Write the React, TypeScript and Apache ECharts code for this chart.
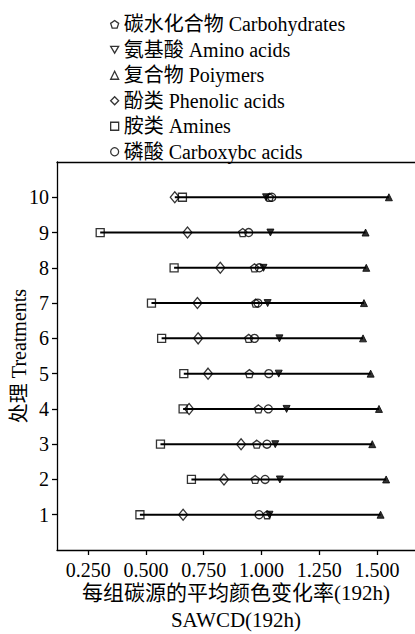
import React, { useEffect, useRef } from "react";
import * as echarts from "echarts";

const treatments = [1, 2, 3, 4, 5, 6, 7, 8, 9, 10];
const carbohydrates = [1.025, 0.973, 0.98, 0.987, 0.948, 0.945, 0.975, 0.97, 0.919, 1.035];
const aminoAcids = [1.035, 1.08, 1.06, 1.109, 1.075, 1.078, 1.027, 1.009, 1.039, 1.02];
const polymers = [1.516, 1.54, 1.48, 1.509, 1.473, 1.44, 1.444, 1.454, 1.451, 1.552];
const phenolicAcids = [0.661, 0.838, 0.912, 0.687, 0.769, 0.726, 0.723, 0.822, 0.68, 0.625];
const amines = [0.474, 0.697, 0.563, 0.661, 0.664, 0.568, 0.524, 0.622, 0.302, 0.658];
const carboxylicAcids = [0.99, 1.016, 1.024, 1.03, 1.032, 0.97, 0.985, 0.991, 0.945, 1.045];
const xTicks = [0.25, 0.5, 0.75, 1.0, 1.25, 1.5];
const yTicks = [1, 2, 3, 4, 5, 6, 7, 8, 9, 10];

const FONT = "'Liberation Serif','Times New Roman','Noto Sans CJK SC',serif";
const PENTAGON = "path://M0,-10L9.51,-3.09L5.88,8.09L-5.88,8.09L-9.51,-3.09Z";

export default function App() {
  const ref = useRef<HTMLDivElement>(null);
  useEffect(() => {
    if (!ref.current) return;
    const chart = echarts.init(ref.current, null, { renderer: "svg" });
    const groups = [
      { name: "碳水化合物 Carbohydrates", data: carbohydrates, symbol: PENTAGON, size: 8, filled: false },
      { name: "氨基酸 Amino acids", data: aminoAcids, symbol: "triangle", size: 7, filled: true, rotate: 180 },
      { name: "复合物 Poiymers", data: polymers, symbol: "triangle", size: 7, filled: true },
      { name: "酚类 Phenolic acids", data: phenolicAcids, symbol: "diamond", size: [9, 11], filled: false },
      { name: "胺类 Amines", data: amines, symbol: "rect", size: 8, filled: false },
      { name: "磷酸 Carboxybc acids", data: carboxylicAcids, symbol: "circle", size: 8, filled: false },
    ];
    const ranges = treatments.map((t, i) => {
      const vals = groups.map((g) => g.data[i]);
      return [Math.min(...vals), Math.max(...vals), t];
    });
    const legendIcons: Record<string, string> = {
      "碳水化合物 Carbohydrates": PENTAGON,
      "氨基酸 Amino acids": "path://M-10,-8L10,-8L0,9Z",
      "复合物 Poiymers": "triangle",
      "酚类 Phenolic acids": "diamond",
      "胺类 Amines": "rect",
      "磷酸 Carboxybc acids": "circle",
    };
    const axisCommon = {
      axisLine: { show: true, lineStyle: { color: "#000", width: 1.3 } },
      splitLine: { show: false },
    };
    chart.setOption({
      animation: false,
      backgroundColor: "#fff",
      textStyle: { fontFamily: FONT },
      legend: {
        orient: "vertical",
        left: 105,
        top: 9,
        itemWidth: 8,
        itemHeight: 8,
        itemGap: 5,
        textStyle: { fontFamily: FONT, fontSize: 20, lineHeight: 20.5, color: "#000" },
        data: groups.map((g) => ({
          name: g.name,
          icon: legendIcons[g.name],
          itemStyle: { color: "rgba(255,255,255,0)", borderColor: "#000", borderWidth: 1.3 },
        })),
      },
      grid: { left: 57, right: 0, top: 162, bottom: 84, containLabel: false, outerBoundsMode: "none" },
      xAxis: [
        {
          type: "value",
          min: 0.115,
          max: 1.665,
          position: "bottom",
          ...axisCommon,
          axisTick: { show: true, customValues: xTicks, length: 5, lineStyle: { color: "#000", width: 1.3 } },
          axisLabel: {
            customValues: xTicks,
            formatter: (v: number) => v.toFixed(3),
            color: "#000",
            fontSize: 20,
            fontFamily: FONT,
            margin: 10,
          },
          name: "每组碳源的平均颜色变化率(192h)\nSAWCD(192h)",
          nameLocation: "middle",
          nameMoveOverlap: false,
          nameGap: 29,
          nameTextStyle: { color: "#000", fontSize: 21, fontFamily: FONT, lineHeight: 27 },
        },
        {
          type: "value",
          min: 0.115,
          max: 1.665,
          position: "top",
          ...axisCommon,
          axisTick: { show: false },
          axisLabel: { show: false },
        },
      ],
      yAxis: {
        type: "value",
        min: 0,
        max: 11,
        interval: 1,
        ...axisCommon,
        axisTick: { show: true, customValues: yTicks, length: 5, lineStyle: { color: "#000", width: 1.3 } },
        axisLabel: {
          customValues: yTicks,
          formatter: (v: number) => (v >= 1 && v <= 10 ? String(v) : ""),
          color: "#000",
          fontSize: 20,
          fontFamily: FONT,
          margin: 8,
        },
        name: "处理 Treatments",
        nameLocation: "middle",
        nameMoveOverlap: false,
        nameGap: 28,
        nameTextStyle: { color: "#000", fontSize: 20, fontFamily: FONT },
      },
      series: [
        {
          type: "custom",
          silent: true,
          data: ranges,
          encode: { x: [0, 1], y: 2 },
          renderItem: (params: any, api: any) => {
            const a = api.coord([api.value(0), api.value(2)]);
            const b = api.coord([api.value(1), api.value(2)]);
            return {
              type: "line",
              shape: { x1: a[0], y1: a[1], x2: b[0], y2: b[1] },
              style: { stroke: "#000", lineWidth: 2 },
            };
          },
          z: 1,
        },
        ...groups.map((g) => ({
          type: "scatter",
          name: g.name,
          symbol: g.symbol,
          symbolSize: g.size,
          symbolRotate: (g as any).rotate || 0,
          data: g.data.map((v, i) => [v, treatments[i]]),
          itemStyle: g.filled
            ? { color: "#000", borderColor: "#000", borderWidth: 1 }
            : { color: "rgba(255,255,255,0)", borderColor: "#000", borderWidth: 1.3 },
          z: 3,
        })),
      ],
    });
    return () => chart.dispose();
  }, []);
  return <div ref={ref} style={{ position: "fixed", left: 0, top: 0, width: 415, height: 634 }} />;
}
